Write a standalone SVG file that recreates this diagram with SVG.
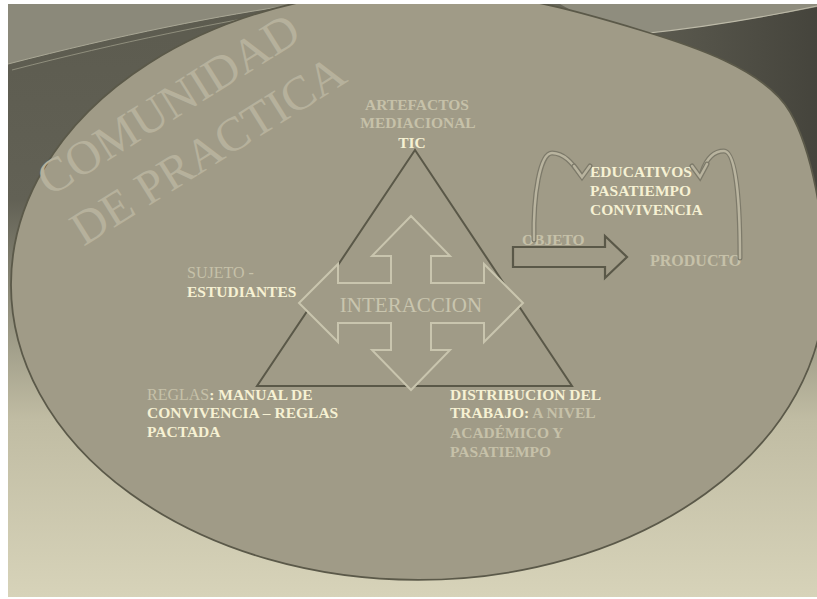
<svg xmlns="http://www.w3.org/2000/svg" width="817" height="599" viewBox="0 0 817 599">
  <defs>
    <linearGradient id="bg" x1="0" y1="0" x2="0" y2="1">
      <stop offset="0" stop-color="#5c5b4f"/>
      <stop offset="0.33" stop-color="#626155"/>
      <stop offset="0.5" stop-color="#8f8d7b"/>
      <stop offset="0.7" stop-color="#c0bca3"/>
      <stop offset="1" stop-color="#d7d3b9"/>
    </linearGradient>
    <linearGradient id="tr" x1="0" y1="0" x2="1" y2="0">
      <stop offset="0" stop-color="#6a695c"/>
      <stop offset="1" stop-color="#45443c"/>
    </linearGradient>
    <clipPath id="frame"><rect x="8" y="4" width="809" height="593"/></clipPath>
    <style>
      .lbl { font-family: "Liberation Serif", "DejaVu Serif", serif; font-size: 15.5px; }
      .b { font-weight: bold; }
      .cream { fill: #f6f1d3; }
      .grey { fill: #c6c1a9; }
      .reg { font-weight: normal; font-size: 16px; }
      .curve { fill: none; stroke: #7d7a6a; stroke-width: 5; stroke-linecap: round; }
      .curveHi { fill: none; stroke: #b9b49f; stroke-width: 2.5; stroke-linecap: round; }
    </style>
  </defs>
  <rect x="0" y="0" width="817" height="599" fill="#ffffff"/>
  <g id="background" clip-path="url(#frame)">
    <rect x="8" y="4" width="809" height="593" fill="url(#bg)"/>
    <rect x="540" y="4" width="277" height="300" fill="url(#tr)"/>
    <path d="M8 4 L300 4 C220 15 120 35 8 64 Z" fill="#8b897a"/>
    <path d="M8 64 C120 35 220 15 300 4" fill="none" stroke="#a9a795" stroke-width="1"/>
    <path d="M12 70 C120 42 220 22 305 8" fill="none" stroke="#9c9a88" stroke-width="0.8"/>
    <path d="M560 4 L817 4 L817 7 C760 18 700 28 640 34 C610 30 580 16 560 4 Z" fill="#8f8d7e"/>
    <path d="M640 34 C700 28 760 18 817 6" fill="none" stroke="#bdbaa8" stroke-width="1.2"/>
    <path id="ellipse" d="M11 285 A407 295 0 0 0 825 285 C825 220 812 150 790 112 C765 69 690 45 640 30 C590 15 530 -2.4 470 -8 A407 295 0 0 0 11 285 Z" fill="#a09b87" stroke="#5b5949" stroke-width="1.8"/>
  </g>
  <g id="title" font-family="'Liberation Serif', 'DejaVu Serif', serif" font-size="48" fill="#b6b19c">
    <g transform="translate(50,197) rotate(-32)">
      <text x="0" y="0">COMUNIDAD</text>
      <text x="2" y="60">DE PRACTICA</text>
    </g>
  </g>
  <g id="triangle">
    <polygon points="415,150 257,386 572,386" fill="none" stroke="#5a5848" stroke-width="2"/>
  </g>
  <g id="interaccion">
    <path d="M411 216 L450 256 L431 256 L431 283 L484 283 L484 264 L523 303 L484 342 L484 323 L431 323 L431 350 L450 350 L411 390 L372 350 L391 350 L391 323 L338 323 L338 342 L299 303 L338 264 L338 283 L391 283 L391 256 L372 256 Z" fill="#a09b87" stroke="#c9c5ae" stroke-width="2"/>
    <text x="411" y="312" text-anchor="middle" font-family="'Liberation Serif', 'DejaVu Serif', serif" font-size="21" fill="#c9c5ae">INTERACCION</text>
  </g>
  <g id="artefactos" class="lbl b" text-anchor="middle">
    <text x="417" y="110" class="grey">ARTEFACTOS</text>
    <text x="418" y="128" class="grey">MEDIACIONAL</text>
    <text x="412" y="148" class="cream">TIC</text>
  </g>
  <g id="sujeto" class="lbl">
    <text x="187" y="278" class="grey reg">SUJETO -</text>
    <text x="187" y="297" class="cream b">ESTUDIANTES</text>
  </g>
  <g id="reglas" class="lbl">
    <text x="147" y="400"><tspan class="grey reg">REGLAS</tspan><tspan class="cream b">: MANUAL DE</tspan></text>
    <text x="147" y="418" class="cream b">CONVIVENCIA – REGLAS</text>
    <text x="147" y="437" class="cream b">PACTADA</text>
  </g>
  <g id="distribucion" class="lbl b">
    <text x="450" y="400" class="cream">DISTRIBUCION DEL</text>
    <text x="450" y="418"><tspan class="cream">TRABAJO:</tspan><tspan class="grey"> A NIVEL</tspan></text>
    <text x="450" y="438" class="grey">ACADÉMICO Y</text>
    <text x="450" y="457" class="grey">PASATIEMPO</text>
  </g>
  <g id="objeto" class="lbl b">
    <text x="522" y="245" class="grey">OBJETO</text>
  </g>
  <g id="producto" class="lbl b">
    <text x="650" y="266" class="grey" font-size="16">PRODUCTO</text>
  </g>
  <g id="productos" class="lbl b">
    <text x="590" y="177" class="cream">EDUCATIVOS</text>
    <text x="590" y="196" class="cream">PASATIEMPO</text>
    <text x="590" y="215" class="cream">CONVIVENCIA</text>
  </g>
  <g id="connectors">
    <path d="M513 247 L605 247 L605 236 L627 257 L605 278 L605 267 L513 267 Z" fill="#a09b87" stroke="#5a5848" stroke-width="2.2"/>
    <path class="curve" d="M534 240 C533 195 540 153 552 153 C564 153 572 163 580 174"/>
    <path class="curveHi" d="M534 240 C533 195 540 153 552 153 C564 153 572 163 580 174"/>
    <path class="curve" d="M574 166 L582 177 L590 166"/>
    <path class="curveHi" d="M574 166 L582 177 L590 166"/>
    <path class="curve" d="M740 258 C740 200 736 151 724 151 C713 151 706 160 702 172"/>
    <path class="curveHi" d="M740 258 C740 200 736 151 724 151 C713 151 706 160 702 172"/>
    <path class="curve" d="M692 166 L700 177 L707 164"/>
    <path class="curveHi" d="M692 166 L700 177 L707 164"/>
  </g>
</svg>
